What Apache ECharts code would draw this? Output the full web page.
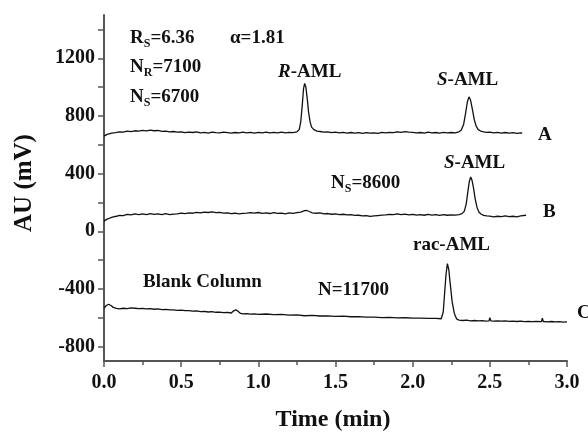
<!DOCTYPE html>
<html>
<head>
<meta charset="utf-8">
<script src="https://cdn.jsdelivr.net/npm/echarts@6/dist/echarts.min.js"></script>
<style>
html,body{margin:0;padding:0;background:#fff;}
#chart{width:588px;height:433px;}
</style>
</head>
<body>
<div id="chart"></div>
<script>
// Time (min) / AU (mV) pairs
const traceA = [
[0.00,660],[0.02,672],[0.05,680],[0.075,684],[0.10,689],[0.125,687],[0.15,694],[0.175,691],[0.20,697],[0.225,694],
[0.25,700],[0.275,696],[0.30,701],[0.325,697],[0.35,699],[0.375,693],[0.40,694],[0.425,690],[0.45,692],[0.475,687],
[0.50,690],[0.525,684],[0.55,688],[0.575,685],[0.60,689],[0.625,683],[0.65,686],[0.675,681],[0.70,687],[0.725,684],
[0.75,682],[0.775,687],[0.80,684],[0.825,680],[0.85,685],[0.875,682],[0.90,687],[0.925,683],[0.95,686],[0.975,681],
[1.00,686],[1.025,683],[1.05,687],[1.075,682],[1.10,686],[1.125,683],[1.15,687],[1.175,682],[1.20,686],[1.225,684],
[1.25,690],[1.265,705],[1.275,760],[1.285,880],[1.293,990],[1.30,1025],[1.308,1000],[1.317,920],[1.325,830],[1.335,760],
[1.345,722],[1.36,705],[1.38,694],[1.40,692],[1.425,687],[1.45,690],[1.475,684],[1.50,687],[1.525,682],[1.55,686],
[1.575,681],[1.60,685],[1.625,680],[1.65,684],[1.675,679],[1.70,684],[1.725,680],[1.75,683],[1.775,679],[1.80,686],
[1.825,682],[1.85,686],[1.875,684],[1.90,689],[1.925,686],[1.95,691],[1.975,687],[2.00,686],[2.025,682],[2.05,685],
[2.075,681],[2.10,687],[2.125,682],[2.15,685],[2.175,681],[2.20,686],[2.225,682],[2.25,685],[2.275,683],[2.30,690],
[2.315,702],[2.33,740],[2.343,820],[2.355,900],[2.365,932],[2.375,910],[2.388,840],[2.40,770],[2.412,728],[2.425,705],
[2.44,695],[2.46,690],[2.48,686],[2.50,688],[2.525,682],[2.55,686],[2.575,681],[2.60,685],[2.625,680],[2.65,684],
[2.675,679],[2.70,683],[2.71,680]
];
const traceB = [
[0.00,70],[0.02,84],[0.04,92],[0.06,99],[0.08,104],[0.10,110],[0.125,109],[0.15,117],[0.175,114],[0.20,121],
[0.225,116],[0.25,120],[0.275,115],[0.30,122],[0.325,117],[0.35,121],[0.375,116],[0.40,122],[0.425,116],[0.45,119],
[0.475,121],[0.50,126],[0.525,122],[0.55,128],[0.575,125],[0.60,131],[0.625,127],[0.65,133],[0.675,130],[0.70,135],
[0.725,129],[0.75,131],[0.775,126],[0.80,128],[0.825,122],[0.85,125],[0.875,121],[0.90,124],[0.925,126],[0.95,129],
[0.975,125],[1.00,130],[1.025,124],[1.05,127],[1.075,123],[1.10,129],[1.125,124],[1.15,126],[1.175,121],[1.20,127],
[1.225,124],[1.25,129],[1.275,133],[1.30,143],[1.315,144],[1.33,137],[1.35,128],[1.375,125],[1.40,127],[1.425,121],
[1.45,123],[1.475,118],[1.50,121],[1.525,116],[1.55,118],[1.575,113],[1.60,116],[1.625,110],[1.65,111],[1.675,106],
[1.70,108],[1.725,103],[1.75,106],[1.775,109],[1.80,112],[1.825,114],[1.85,117],[1.875,115],[1.90,121],[1.925,116],
[1.95,119],[1.975,114],[2.00,117],[2.025,112],[2.05,115],[2.075,111],[2.10,117],[2.125,112],[2.15,115],[2.175,110],
[2.20,116],[2.225,111],[2.25,114],[2.275,112],[2.30,116],[2.32,122],[2.335,140],[2.347,190],[2.357,270],[2.367,345],
[2.376,376],[2.385,352],[2.395,295],[2.405,225],[2.417,165],[2.43,132],[2.445,118],[2.46,110],[2.48,107],[2.50,105],
[2.525,100],[2.55,104],[2.575,101],[2.60,107],[2.625,102],[2.65,104],[2.675,100],[2.70,107],[2.735,111]
];
const traceC = [
[0.00,-535],[0.015,-515],[0.03,-506],[0.045,-515],[0.06,-528],[0.08,-535],[0.10,-538],[0.125,-534],[0.15,-536],[0.175,-532],
[0.20,-534],[0.225,-537],[0.25,-535],[0.275,-539],[0.30,-537],[0.325,-541],[0.35,-539],[0.375,-543],[0.40,-542],[0.425,-546],
[0.45,-545],[0.475,-549],[0.50,-547],[0.525,-551],[0.55,-550],[0.575,-554],[0.60,-553],[0.625,-557],[0.65,-556],[0.675,-560],
[0.70,-558],[0.725,-562],[0.75,-561],[0.775,-565],[0.80,-563],[0.825,-567],[0.84,-552],[0.855,-545],[0.87,-556],[0.885,-570],
[0.90,-573],[0.925,-571],[0.95,-575],[0.975,-573],[1.00,-576],[1.05,-574],[1.10,-578],[1.15,-577],[1.20,-582],[1.25,-580],
[1.30,-586],[1.35,-584],[1.40,-588],[1.45,-587],[1.50,-591],[1.55,-589],[1.60,-593],[1.65,-592],[1.70,-596],[1.75,-595],
[1.80,-599],[1.85,-598],[1.90,-601],[1.95,-600],[2.00,-603],[2.05,-602],[2.10,-605],[2.15,-604],[2.185,-607],[2.198,-560],
[2.207,-430],[2.216,-300],[2.225,-225],[2.234,-265],[2.244,-370],[2.256,-490],[2.27,-570],[2.285,-608],[2.30,-616],[2.325,-619],
[2.35,-617],[2.375,-621],[2.40,-619],[2.425,-622],[2.45,-620],[2.475,-623],[2.495,-621],[2.50,-600],[2.507,-622],[2.525,-623],
[2.55,-621],[2.575,-624],[2.60,-622],[2.625,-625],[2.65,-623],[2.675,-626],[2.70,-624],[2.725,-627],[2.75,-625],[2.775,-627],
[2.80,-626],[2.835,-627],[2.84,-603],[2.847,-626],[2.875,-628],[2.90,-626],[2.925,-629],[2.95,-627],[2.975,-630],[3.00,-628]
];
const yLabelValues = [-800,-400,0,400,800,1200];
const yTickValues = [-800,-600,-400,-200,0,200,400,600,800,1000,1200,1400];

const FONT = "'Liberation Serif','Times New Roman',serif";
const chart = echarts.init(document.getElementById('chart'));
const lineSeries = (d) => ({
  type:'line', data:d, showSymbol:false, symbol:'none', silent:true,
  lineStyle:{color:'#111', width:1.3}
});
function txt(x, y, text, opts) {
  opts = opts || {};
  return {
    type:'text', x:x, y:y, silent:true,
    rotation: opts.rotation || 0,
    style:{
      text:text, fill:'#111', font:'bold '+(opts.size||19)+'px '+FONT,
      align: opts.align || 'left', verticalAlign:'middle',
      rich: opts.rich
    }
  };
}
const richBase = {
  b:{fontFamily:FONT, fontWeight:'bold', fontSize:19, color:'#111'},
  i:{fontFamily:FONT, fontWeight:'bold', fontStyle:'italic', fontSize:19, color:'#111'},
  s:{fontFamily:FONT, fontWeight:'bold', fontSize:12, color:'#111', verticalAlign:'bottom', padding:[12,0,0,0]}
};
chart.setOption({
  animation:false,
  backgroundColor:'#fff',
  grid:{left:104, right:21, top:15, bottom:72, containLabel:false},
  xAxis:{
    type:'value', min:0, max:3, interval:0.5,
    axisLine:{show:true, onZero:false, lineStyle:{color:'#555', width:2}},
    axisTick:{show:true, inside:false, length:6, lineStyle:{color:'#555', width:1.5}},
    minorTick:{show:true, splitNumber:2, length:4, lineStyle:{color:'#555', width:1.5}},
    splitLine:{show:false},
    axisLabel:{color:'#111', fontFamily:FONT, fontWeight:'bold', fontSize:20, margin:12,
      formatter:(v)=>v.toFixed(1)}
  },
  yAxis:{
    type:'value', min:-900, max:1500,
    axisLine:{show:true, onZero:false, lineStyle:{color:'#555', width:2}},
    axisTick:{show:true, inside:false, length:6, customValues:yTickValues, lineStyle:{color:'#555', width:1.5}},
    splitLine:{show:false},
    axisLabel:{color:'#111', fontFamily:FONT, fontWeight:'bold', fontSize:20, margin:9,
      customValues:yLabelValues, formatter:(v)=>String(v)}
  },
  series:[lineSeries(traceA), lineSeries(traceB), lineSeries(traceC)],
  graphic:[
    txt(25, 183, 'AU (mV)', {size:25, align:'center', rotation:Math.PI/2}),
    txt(333, 420, 'Time (min)', {size:24, align:'center'}),
    txt(130, 38, '{b|R}{s|S}{b|=6.36}', {rich:richBase}),
    txt(230, 38, 'α=1.81'),
    txt(130, 67, '{b|N}{s|R}{b|=7100}', {rich:richBase}),
    txt(130, 97, '{b|N}{s|S}{b|=6700}', {rich:richBase}),
    txt(278, 72, '{i|R}{b|-AML}', {rich:richBase}),
    txt(437, 80, '{i|S}{b|-AML}', {rich:richBase}),
    txt(538, 135, 'A'),
    txt(331, 183, '{b|N}{s|S}{b|=8600}', {rich:richBase}),
    txt(444, 163, '{i|S}{b|-AML}', {rich:richBase}),
    txt(543, 212, 'B'),
    txt(143, 282, 'Blank Column'),
    txt(413, 245, 'rac-AML'),
    txt(318, 290, 'N=11700'),
    txt(577, 313, 'C')
  ]
});
</script>
</body>
</html>
